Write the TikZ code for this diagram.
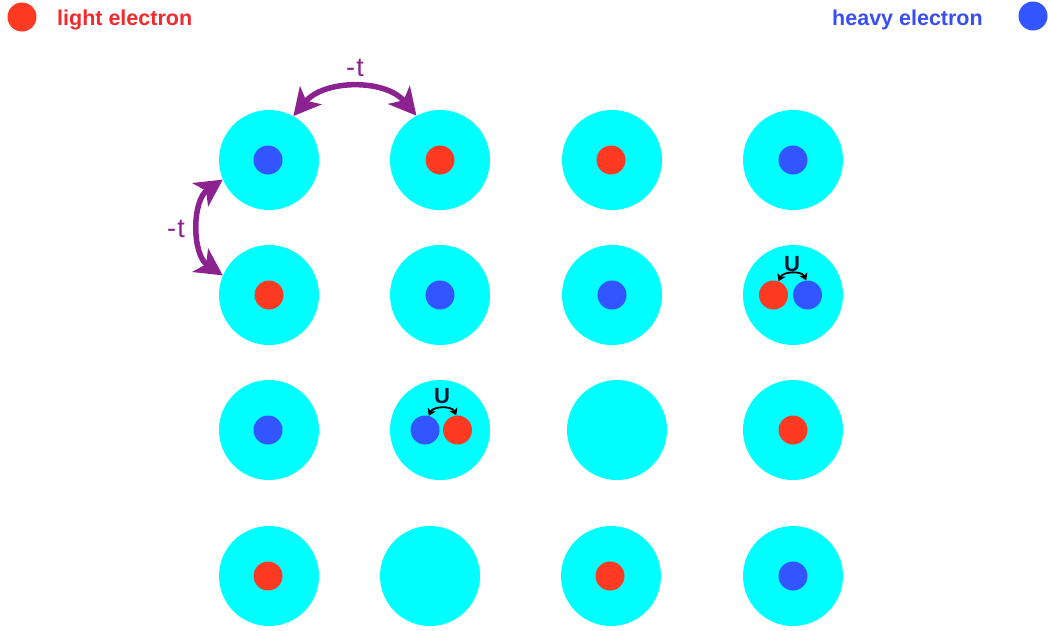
\documentclass[tikz,border=0pt]{standalone}
\usepackage{fontspec}
\setmainfont{Liberation Sans}
\usetikzlibrary{arrows.meta}
\definecolor{sitecyan}{HTML}{00FFFF}
\definecolor{elred}{HTML}{FF3A22}
\definecolor{elblue}{HTML}{3355FF}
\definecolor{txtred}{HTML}{F22A2E}
\definecolor{txtblue}{HTML}{3A4EF5}
\definecolor{hopcol}{HTML}{8C2290}
\definecolor{ucol}{HTML}{141832}
\begin{document}
\begin{tikzpicture}[x=1pt,y=1pt,
  site/.style={circle,fill=sitecyan,minimum size=100pt,inner sep=0pt},
  lightel/.style={circle,fill=elred,minimum size=29pt,inner sep=0pt},
  heavyel/.style={circle,fill=elblue,minimum size=29pt,inner sep=0pt},
  legtext/.style={anchor=base west,inner sep=0pt,font=\fontsize{21.5}{24}\selectfont\bfseries},
  hop/.style={draw=hopcol,line width=5.5pt,{Stealth[length=27pt,width=28pt,inset=7pt]}-{Stealth[length=27pt,width=28pt,inset=7pt]}},
  hoplabel/.style={text=hopcol,inner sep=0pt,font=\fontsize{27}{30}\selectfont},
  uarrow/.style={draw=black,line width=1.8pt,{Stealth[length=7pt,width=9pt,inset=2pt]}-{Stealth[length=7pt,width=9pt,inset=2pt]}},
  ulabel/.style={text=ucol,inner sep=0pt,font=\fontsize{22}{24}\selectfont\bfseries}]
\useasboundingbox (0,0) rectangle (1048,-630);
% legend
\node[lightel] (legL) at (22,-17) {};
\node[legtext,text=txtred] (legLt) at (57,-25) {light electron};
\node[heavyel] (legH) at (1033,-16) {};
\node[legtext,text=txtblue] (legHt) at (832,-25) {heavy electron};
% sites
\node[site] (s11) at (269,-160) {};
\node[site] (s12) at (440,-160) {};
\node[site] (s13) at (612,-160) {};
\node[site] (s14) at (793,-160) {};
\node[site] (s21) at (269,-295) {};
\node[site] (s22) at (440,-295) {};
\node[site] (s23) at (612,-295) {};
\node[site] (s24) at (793,-295) {};
\node[site] (s31) at (269,-430) {};
\node[site] (s32) at (440,-430) {};
\node[site] (s33) at (617,-430) {};
\node[site] (s34) at (793,-430) {};
\node[site] (s41) at (269,-576) {};
\node[site] (s42) at (430,-576) {};
\node[site] (s43) at (611,-576) {};
\node[site] (s44) at (793,-576) {};
% electrons
\node[heavyel] (e11) at (268,-160) {};
\node[lightel] (e12) at (440,-160) {};
\node[lightel] (e13) at (611,-160) {};
\node[heavyel] (e14) at (793,-160) {};
\node[lightel] (e21) at (269,-295) {};
\node[heavyel] (e22) at (440,-295) {};
\node[heavyel] (e23) at (612,-295) {};
\node[lightel] (e24a) at (773.5,-295) {};
\node[heavyel] (e24b) at (807.5,-295) {};
\node[heavyel] (e31) at (268,-430) {};
\node[heavyel] (e32a) at (425,-430) {};
\node[lightel] (e32b) at (457.5,-430) {};
\node[lightel] (e34) at (793,-430) {};
\node[lightel] (e41) at (268,-576) {};
\node[lightel] (e43) at (610,-576) {};
\node[heavyel] (e44) at (793,-576) {};
% U interactions
\draw[uarrow] (e24a.70) to[out=65,in=115] (e24b.95);
\node[ulabel] (u24) at (792,-264) {U};
\draw[uarrow] (e32a.75) to[out=65,in=115] (e32b.95);
\node[ulabel] (u32) at (442,-396) {U};
% hopping
\draw[hop] (s11.61) to[out=50,in=130] (s12.118);
\node[hoplabel] (t1) at (355,-68) {-\kern1.5pt t};
\draw[hop] (s11.203) to[out=214,in=146] (s21.157);
\node[hoplabel] (t2) at (176,-229) {-\kern1.5pt t};
\end{tikzpicture}
\end{document}
